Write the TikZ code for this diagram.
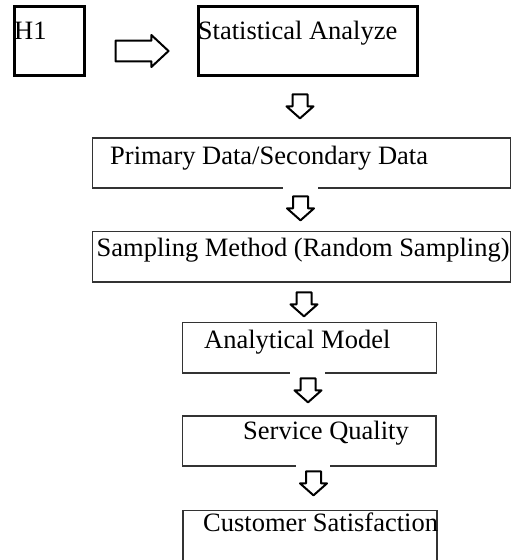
\documentclass[tikz,border=0pt]{standalone}
\usepackage{fontspec}
\setmainfont{Liberation Serif}
\usetikzlibrary{shapes.arrows}
\begin{document}
\begin{tikzpicture}[x=1pt,y=-1pt,
  thickbox/.style={draw=black,line width=3pt,rectangle,inner sep=0pt,fill=none},
  thinbox/.style={draw=black!80,line width=1.3pt,rectangle,inner sep=0pt,fill=none},
  lbl/.style={anchor=base west,inner sep=0pt,font=\fontsize{26.5}{30}\selectfont},
  downarrow/.style={shape=single arrow,rotate=-90,draw=black,fill=white,line width=2pt,line join=round,
    inner sep=6.5pt,minimum height=24pt,minimum width=25pt,single arrow head extend=6pt,
    single arrow tip angle=97},
  rightarrow/.style={shape=single arrow,draw=black,fill=white,line width=2pt,line join=round,
    inner sep=9.3pt,minimum height=53pt,minimum width=30pt,single arrow head extend=5.7pt,
    single arrow tip angle=86},
  gapbox/.style={rectangle,fill=white,draw=none,inner sep=0pt,minimum width=35pt,minimum height=12pt}
]
\useasboundingbox (0,0) rectangle (513,560);
\clip (0,0) rectangle (513,560);
\fill[white] (0,0) rectangle (513,560);
% boxes
\node[thickbox,minimum width=70pt,minimum height=68.7pt] (h1) at (49.3,40.65) {};
\node[thickbox,minimum width=219pt,minimum height=68.7pt] (stat) at (308,40.65) {};
\node[thinbox,minimum width=418pt,minimum height=50pt] (prim) at (301.5,163) {};
\node[thinbox,minimum width=418pt,minimum height=50.5pt] (samp) at (301.5,256.75) {};
\node[thinbox,minimum width=254pt,minimum height=50.5pt] (anal) at (309.5,347.75) {};
\node[thinbox,minimum width=253.5pt,minimum height=50pt] (serv) at (309.25,441) {};
\node[thinbox,minimum width=254pt,minimum height=59pt] (cust) at (310,540) {};
% labels
\node[lbl] (th1) at (14,39.3) {H1};
\node[lbl] (tstat) at (197.7,39) {Statistical Analyze};
\node[lbl] (tprim) at (110,164) {Primary Data/Secondary Data};
\node[lbl] (tsamp) at (96.5,256.5) {Sampling Method (Random Sampling)};
\node[lbl] (tanal) at (204,348) {Analytical Model};
\node[lbl] (tserv) at (243,439) {Service Quality};
\node[lbl] (tcust) at (203,531.5) {Customer Satisfaction};
% gaps in box borders under arrows
\node[gapbox] (g2) at (prim.south -| 300.5,0) {};
\node[gapbox] (g4) at (anal.south -| 307.5,0) {};
\node[gapbox,minimum width=34pt] (g5) at (serv.south -| 313,0) {};
% block arrows
\node[rightarrow] (a0) at (136.5,51) {};
\node[downarrow] (a1) at (300,103) {};
\node[downarrow] (a2) at (300.5,205) {};
\node[downarrow] (a3) at (304,301) {};
\node[downarrow] (a4) at (308,387) {};
\node[downarrow] (a5) at (313.5,480) {};
\end{tikzpicture}
\end{document}
